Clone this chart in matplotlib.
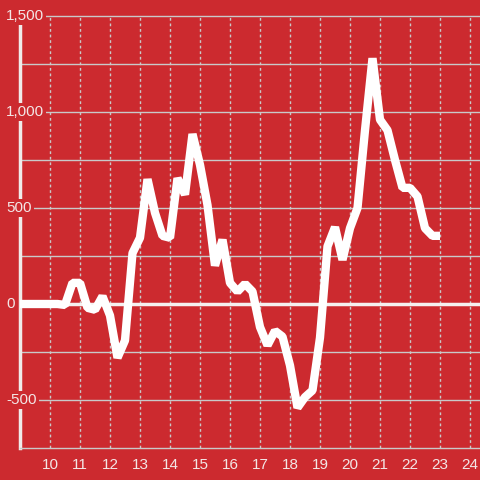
import matplotlib.pyplot as plt
import numpy as np

plt.rcParams['font.family'] = ['Liberation Sans', 'DejaVu Sans']

# data, every quarter step from 9 to 23
x_start, x_step = 9.0, 0.25
values = [0, 0, 0, 0, 0, 0, -5, 110, 110, -20, -30, 40, -60, -280, -190,
          265, 345, 650, 475, 355, 345, 655, 570, 885, 725, 515, 200, 335,
          110, 65, 105, 65, -120, -215, -140, -170, -320, -540, -485, -450,
          -175, 300, 400, 230, 395, 500, 905, 1280, 960, 905, 750, 605, 605,
          560, 395, 355, 355]
x_ticks = list(range(10, 25))
y_ticks = [-500, 0, 500, 1000, 1500]
y_labels = ['-500', '0', '500', '1,000', '1,500']

bg = '#cc2a2f'
grid_col = '#c9c9c9'
txt_col = '#f3e6e6'

xs = x_start + x_step * np.arange(len(values))

fig = plt.figure(figsize=(4.8, 4.8), dpi=100, facecolor=bg)
ax = fig.add_axes([20 / 480, 32 / 480, 460 / 480, 448 / 480])
ax.set_facecolor(bg)
ax.set_xlim(9, 9 + 460 / 30)
ax.set_ylim(-750, 1500 + 16 * 500 / 96)

# grid
for v in np.arange(-500, 1501, 250):
    if v != 0:
        ax.axhline(v, color=grid_col, lw=1, zorder=1)
ax.vlines(x_ticks, -750, 1500, colors=grid_col, lw=1, linestyles=(0, (2, 2)), zorder=1)
ax.axhline(0, color='#f5f0f0', lw=2.5, zorder=2)

ax.plot(xs, values, color='white', lw=6, solid_joinstyle='bevel',
        solid_capstyle='butt', zorder=3)

for s in ['top', 'right']:
    ax.spines[s].set_visible(False)
ax.spines['left'].set_color('#f0eaea')
ax.spines['left'].set_linewidth(2.5)
ax.spines['left'].set_bounds(-750, 1500)
ax.spines['left'].set_zorder(2)
ax.spines['bottom'].set_color(grid_col)
ax.spines['bottom'].set_linewidth(1)

ax.set_xticks(x_ticks)
ax.set_xticklabels([str(t) for t in x_ticks])
ax.tick_params(axis='x', length=0, pad=7, labelsize=11, labelcolor=txt_col)
ax.set_yticks([])

# y labels sit over the spine with a background box
for v, lab in zip(y_ticks, y_labels):
    ax.annotate(lab, xy=(0, v), xycoords=('figure pixels', 'data'),
                xytext=(6, 0), textcoords='offset pixels',
                ha='left', va='center', fontsize=11, color=txt_col,
                bbox=dict(boxstyle='square,pad=0.15', fc=bg, ec='none'),
                zorder=5, annotation_clip=False)

fig.savefig('out.png', facecolor=bg)
